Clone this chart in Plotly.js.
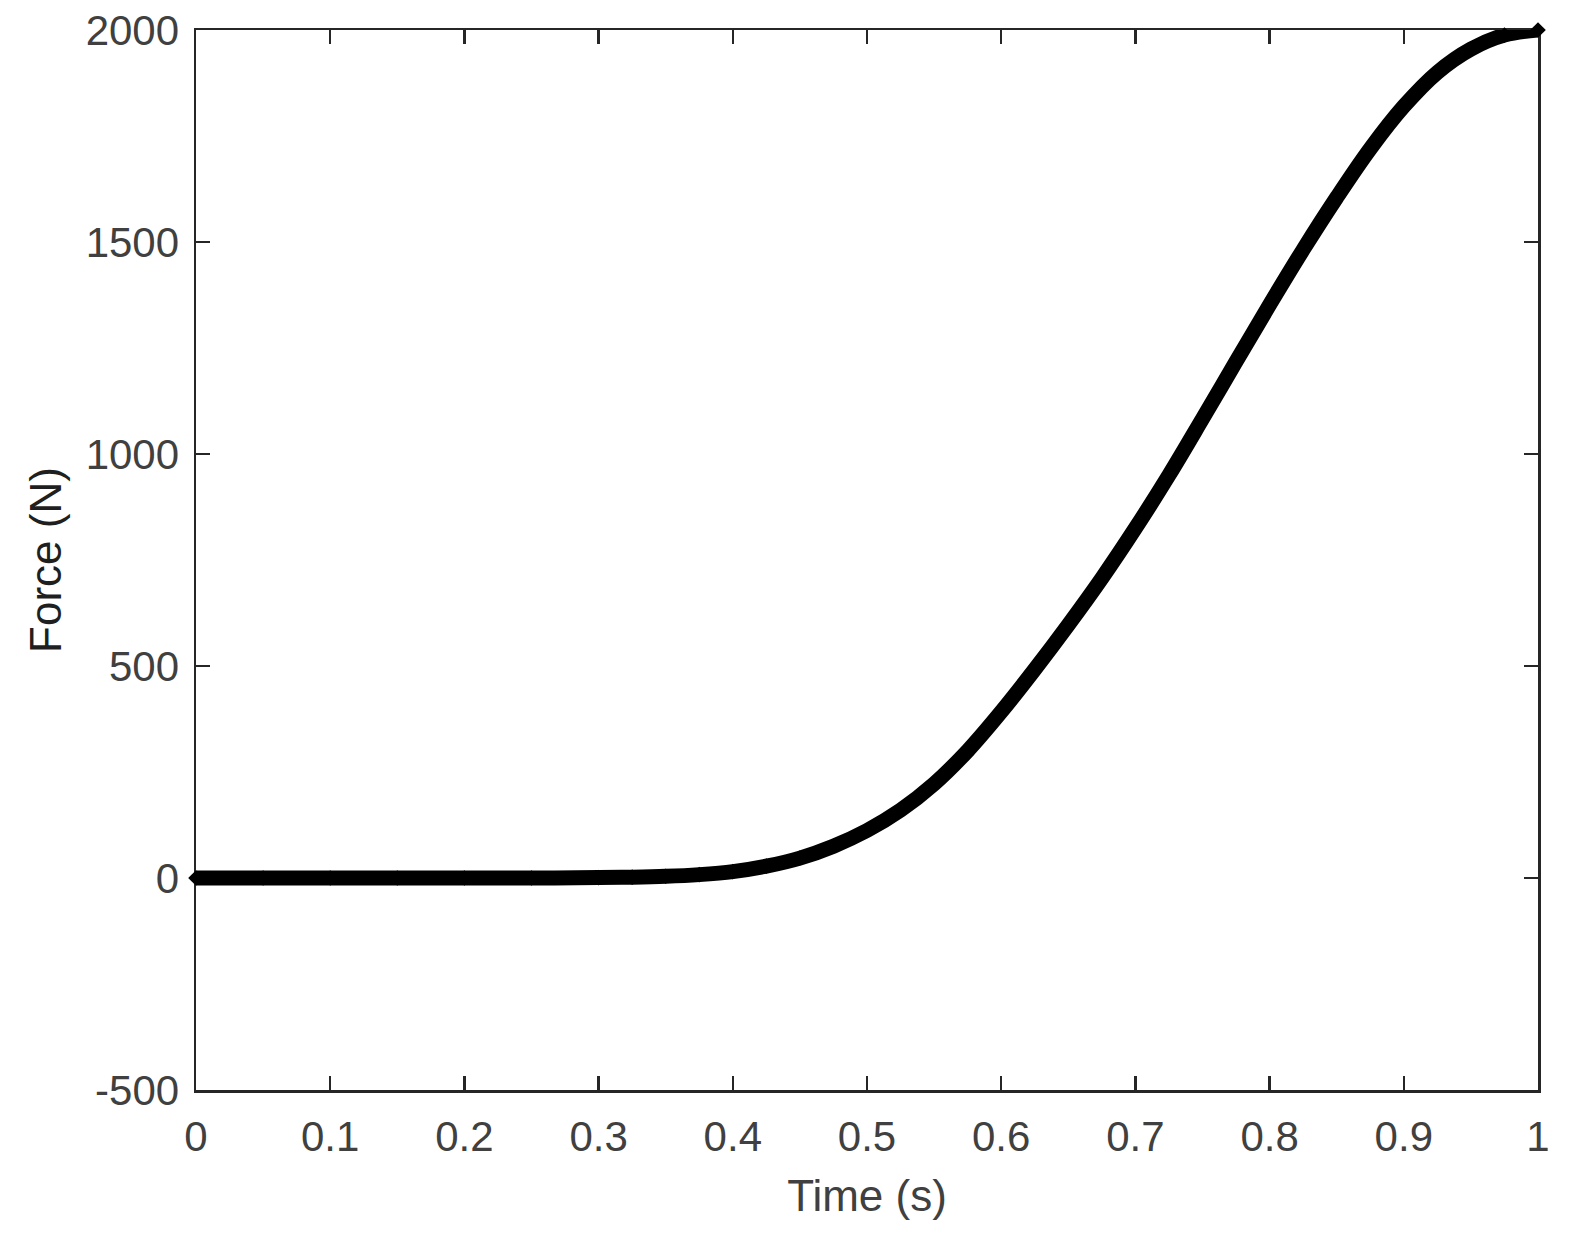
<!DOCTYPE html>
<html>
<head>
<meta charset="utf-8">
<script src="https://cdn.plot.ly/plotly-3.0.1.min.js"></script>
<style>
  html, body { margin: 0; padding: 0; background: #ffffff; }
  #chart { width: 1569px; height: 1236px; }
</style>
</head>
<body>
<div id="chart"></div>
<script>
// Time (s)
const timeValues = [0, 0.05, 0.1, 0.15, 0.2, 0.25, 0.3, 0.325, 0.35, 0.375, 0.4, 0.425, 0.45, 0.475, 0.5, 0.525, 0.55, 0.575, 0.6, 0.625, 0.65, 0.675, 0.7, 0.725, 0.75, 0.775, 0.8, 0.825, 0.85, 0.875, 0.9, 0.925, 0.95, 0.975, 1.0];
// Force (N)
const forceValues = [0, 0, 0, 0, 0, 0, 1, 2, 4, 8, 15, 28, 47, 75, 112, 160, 222, 300, 392, 492, 597, 707, 825, 950, 1083, 1218, 1352, 1482, 1605, 1720, 1820, 1900, 1955, 1988, 2000];

const xTickValues = [0, 0.1, 0.2, 0.3, 0.4, 0.5, 0.6, 0.7, 0.8, 0.9, 1];
const xTickLabels = ["0", "0.1", "0.2", "0.3", "0.4", "0.5", "0.6", "0.7", "0.8", "0.9", "1"];
const yTickValues = [-500, 0, 500, 1000, 1500, 2000];
const yTickLabels = ["-500", "0", "500", "1000", "1500", "2000"];

const fontFamily = 'Arial, "Liberation Sans", Helvetica, sans-serif';
const axisColor = '#262626';
const labelColor = '#404040';

const trace = {
  x: timeValues,
  y: forceValues,
  type: 'scatter',
  mode: 'lines+markers',
  line: { color: '#000000', width: 15, shape: 'spline', smoothing: 1 },
  marker: { symbol: 'diamond', size: 12, color: '#000000', line: { width: 0 } },
  cliponaxis: false,
  hoverinfo: 'x+y'
};

const axisCommon = {
  showgrid: false,
  zeroline: false,
  showline: true,
  mirror: 'ticks',
  linecolor: axisColor,
  linewidth: 2.5,
  ticks: 'inside',
  ticklen: 14,
  tickwidth: 2.5,
  tickcolor: axisColor,
  layer: 'below traces',
  tickfont: { family: fontFamily, size: 42, color: labelColor }
};

const layout = {
  width: 1569,
  height: 1236,
  paper_bgcolor: '#ffffff',
  plot_bgcolor: '#ffffff',
  margin: { l: 196, r: 31, t: 30, b: 146, pad: 0 },
  showlegend: false,
  xaxis: Object.assign({}, axisCommon, {
    range: [0, 1],
    tickmode: 'array',
    tickvals: xTickValues,
    ticktext: xTickLabels,
    ticklabelstandoff: 8,
    title: { text: 'Time (s)', font: { family: fontFamily, size: 44, color: labelColor }, standoff: 22 }
  }),
  yaxis: Object.assign({}, axisCommon, {
    range: [-500, 2000],
    tickmode: 'array',
    tickvals: yTickValues,
    ticktext: yTickLabels,
    ticklabelstandoff: 6,
    title: { text: 'Force (N)', font: { family: fontFamily, size: 44, color: '#1f1f1f' }, standoff: 11 }
  })
};

Plotly.newPlot('chart', [trace], layout, { displayModeBar: false, staticPlot: true });
</script>
</body>
</html>
